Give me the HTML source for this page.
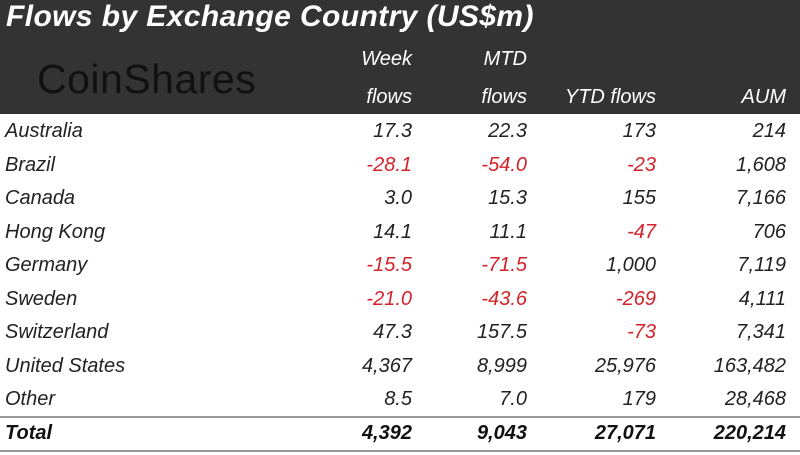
<!DOCTYPE html>
<html><head><style>
body{margin:0;width:800px;height:454px;background:#fff;font-family:"Liberation Sans",sans-serif;font-style:italic;overflow:hidden;position:relative}
.hd{position:absolute;left:0;top:0;width:800px;height:114px;background:#333}
.t{position:absolute;left:6px;top:0px;color:#fff;font-size:30px;font-weight:bold;letter-spacing:0.4px}
.logo{position:absolute;left:37px;top:56px;font-style:normal;font-size:41px;color:#111;letter-spacing:0.5px}
.h{position:absolute;color:#fff;font-size:20px;text-align:right}
.r{position:absolute;left:0;width:800px;height:33px;font-size:20px;color:#222}
.r span{position:absolute;top:0}
.n{left:5px}
.c1,.c2,.c3,.c4{text-align:right;width:150px}
.c1{left:262px}.c2{left:377px}.c3{left:506px}.c4{left:636px}
.neg{color:#d2232a}
.tot{font-weight:bold;color:#111}
.ln{position:absolute;left:0;width:800px;height:2px;background:#999}
</style></head><body>
<div class="hd"></div>
<div class="t">Flows by Exchange Country (US$m)</div>
<div class="logo">CoinShares</div>
<div class="h" style="left:262px;width:150px;top:48px">Week</div>
<div class="h" style="left:262px;width:150px;top:86px">flows</div>
<div class="h" style="left:377px;width:150px;top:48px">MTD</div>
<div class="h" style="left:377px;width:150px;top:86px">flows</div>
<div class="h" style="left:506px;width:150px;top:86px">YTD flows</div>
<div class="h" style="left:636px;width:150px;top:86px">AUM</div>

<div class="r" style="top:120px"><span class="n">Australia</span><span class="c1">17.3</span><span class="c2">22.3</span><span class="c3">173</span><span class="c4">214</span></div>
<div class="r" style="top:154px"><span class="n">Brazil</span><span class="c1 neg">-28.1</span><span class="c2 neg">-54.0</span><span class="c3 neg">-23</span><span class="c4">1,608</span></div>
<div class="r" style="top:187px"><span class="n">Canada</span><span class="c1">3.0</span><span class="c2">15.3</span><span class="c3">155</span><span class="c4">7,166</span></div>
<div class="r" style="top:221px"><span class="n">Hong Kong</span><span class="c1">14.1</span><span class="c2">11.1</span><span class="c3 neg">-47</span><span class="c4">706</span></div>
<div class="r" style="top:254px"><span class="n">Germany</span><span class="c1 neg">-15.5</span><span class="c2 neg">-71.5</span><span class="c3">1,000</span><span class="c4">7,119</span></div>
<div class="r" style="top:288px"><span class="n">Sweden</span><span class="c1 neg">-21.0</span><span class="c2 neg">-43.6</span><span class="c3 neg">-269</span><span class="c4">4,111</span></div>
<div class="r" style="top:321px"><span class="n">Switzerland</span><span class="c1">47.3</span><span class="c2">157.5</span><span class="c3 neg">-73</span><span class="c4">7,341</span></div>
<div class="r" style="top:355px"><span class="n">United States</span><span class="c1">4,367</span><span class="c2">8,999</span><span class="c3">25,976</span><span class="c4">163,482</span></div>
<div class="r" style="top:388px"><span class="n">Other</span><span class="c1">8.5</span><span class="c2">7.0</span><span class="c3">179</span><span class="c4">28,468</span></div>
<div class="ln" style="top:416px"></div>
<div class="r tot" style="top:422px"><span class="n">Total</span><span class="c1">4,392</span><span class="c2">9,043</span><span class="c3">27,071</span><span class="c4">220,214</span></div>
<div class="ln" style="top:450px"></div>
</body></html>
